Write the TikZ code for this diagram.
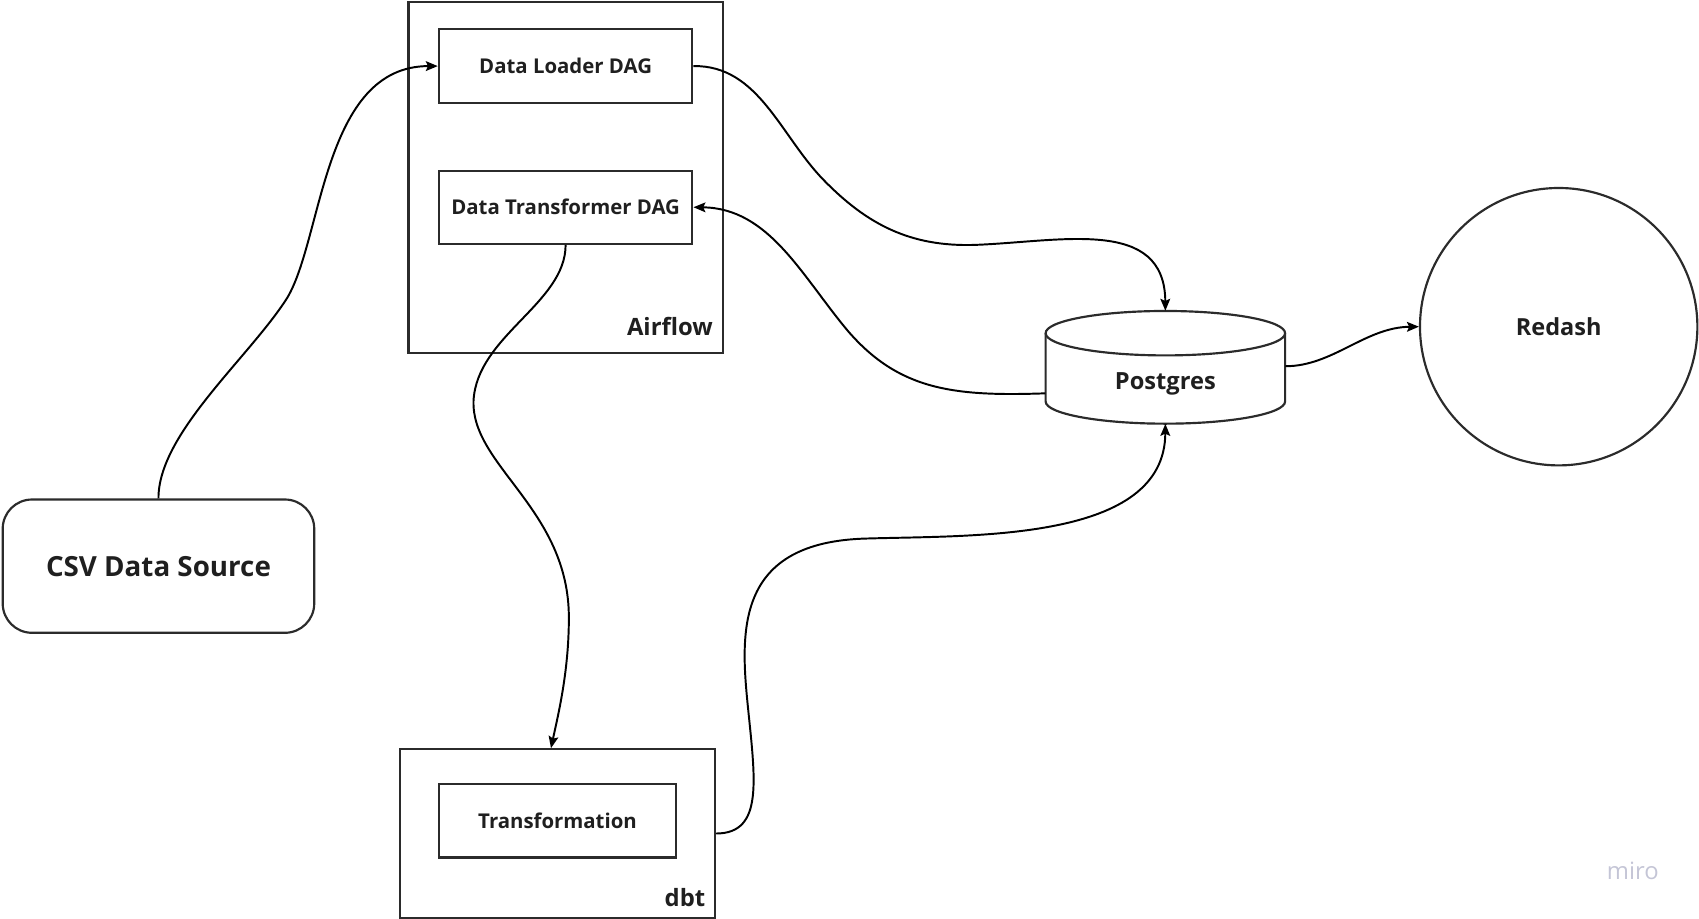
\documentclass[tikz,border=0pt]{standalone}
\usepackage{fontspec}
\setmainfont{Open Sans}
\usetikzlibrary{arrows.meta,calc}
\definecolor{boxc}{HTML}{2B2B2B}
\definecolor{txtc}{HTML}{1F1F1F}
\definecolor{miroc}{HTML}{C4C5D6}
\begin{document}
\begin{tikzpicture}[x=1pt,y=-1pt,
  box/.style={draw=boxc, line width=2pt, inner sep=0pt, text=txtc, font=\bfseries\fontsize{18.8}{22}\selectfont},
  lbl/.style={inner sep=0pt, text=txtc, font=\bfseries\fontsize{22}{26}\selectfont},
  conn/.style={draw=black, line width=1.8pt, -{Stealth[length=11pt,width=9pt,inset=2pt]}},
 ]
\useasboundingbox (0,0) rectangle (1568,848);

% Airflow container
\node[box, minimum width=290.5, minimum height=324.5] (airflow) at (522.25,163.75) {};
\node[box, minimum width=234, minimum height=68] (loader) at (522,61) {Data Loader DAG};
\node[box, minimum width=234, minimum height=67.5] (dt) at (522,191.25) {Data Transformer DAG};
\node[lbl, anchor=base east] (airflowlbl) at (658,310) {Airflow};

% CSV source
\node[box, rounded corners=27pt, minimum width=287.5, minimum height=123, font=\bfseries\fontsize{25.6}{30}\selectfont] (csv) at (146.25,522.5) {CSV Data Source};

% dbt container
\node[box, minimum width=291, minimum height=155.5] (dbt) at (514.5,769.25) {};
\node[box, minimum width=219, minimum height=67.7] (tr) at (514.5,757.5) {Transformation};
\node[lbl, anchor=base east] (dbtlbl) at (651,837) {dbt};

% Postgres cylinder
\node[inner sep=0pt, minimum width=221, minimum height=104] (pg) at (1075.5,339) {};
\draw[draw=boxc, line width=2pt] (965,307.5) -- (965,370.5)
  .. controls (965,381.8) and (1014.5,391) .. (1075.5,391)
  .. controls (1136.5,391) and (1186,381.8) .. (1186,370.5) -- (1186,307.5);
\draw[draw=boxc, line width=2pt] (1075.5,307.5) ellipse [x radius=110.5, y radius=20.5];
\node[lbl, anchor=base, font=\bfseries\fontsize{21.8}{26}\selectfont] (pglbl) at (1075.5,359.5) {Postgres};

% Redash
\node[box, circle, minimum size=256, font=\bfseries\fontsize{21.7}{26}\selectfont] (rd) at (1438.5,301.5) {Redash};

% watermark
\node[inner sep=0pt, anchor=base, text=miroc, font=\fontsize{22}{24}\selectfont] (miro) at (1507,812) {miro};

% connectors
\draw[conn] (csv.north) .. controls (146,400) and (230,330) .. (265,275)
  .. controls (298,220) and (298,61) .. (loader.west);
\draw[conn] (loader.east) .. controls (700,60) and (720,125) .. (760,166)
  .. controls (800,207) and (840,228) .. (900,226)
  .. controls (980,223) and (1075,200) .. (pg.north);
\draw[conn] ($(pg.west)+(0,24)$) .. controls (880,366) and (830,360) .. (783,306)
  .. controls (740,255) and (710,192) .. (dt.east);
\draw[conn] (dt.south) .. controls (522,280) and (440,310) .. (437,370)
  .. controls (435,430) and (525,470) .. (525,570)
  .. controls (525,620) and (515,660) .. ([xshift=-6pt]dbt.north);
\draw[conn] (dbt.east) .. controls (705,769) and (697,720) .. (690,650)
  .. controls (683,580) and (680,500) .. (800,497)
  .. controls (900,494) and (1075,500) .. (pg.south);
\draw[conn] ($(pg.east)+(0,-1)$) .. controls (1230,338) and (1260,302) .. (rd.west);
\end{tikzpicture}
\end{document}
